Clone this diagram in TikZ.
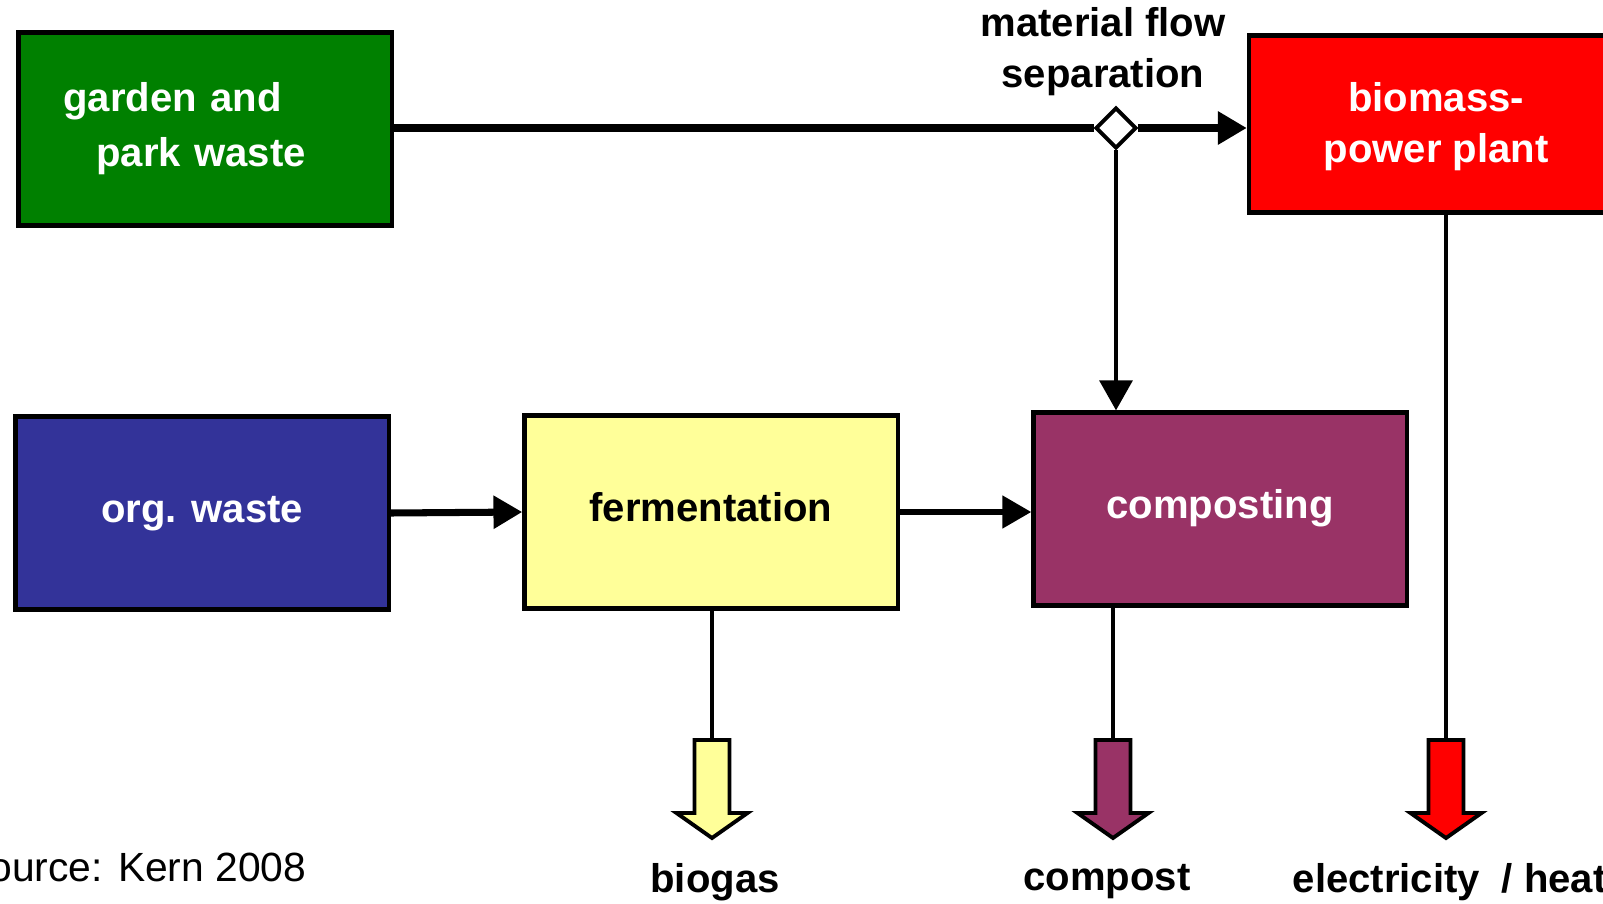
\documentclass[tikz,border=0pt]{standalone}
\usepackage{fontspec}
\setmainfont{Liberation Sans}
\usetikzlibrary{arrows.meta,shapes.geometric}
\definecolor{gardengreen}{RGB}{0,128,0}
\definecolor{plantred}{RGB}{255,0,0}
\definecolor{wasteblue}{RGB}{51,51,153}
\definecolor{fermyellow}{RGB}{255,255,153}
\definecolor{compostplum}{RGB}{153,51,102}
\begin{document}
\begin{tikzpicture}[x=0.01cm,y=-0.01cm,
  every node/.style={font=\fontsize{11.4}{14.5}\selectfont\bfseries},
  box/.style={draw,line width=1.2pt,minimum width=3.73cm,minimum height=1.93cm,align=center},
  oneline/.style={text height=0.75em,text depth=0.22em},
  flow/.style={line width=2pt,-{Triangle[length=8.2pt,width=9pt]}},
  thinflow/.style={line width=1.1pt,-{Triangle[length=8.5pt,width=9.3pt]}},
  outlet/.style={draw,line width=1.1pt,line join=miter}]
  \useasboundingbox (0,0) rectangle (1603,903);
  % boxes
  \node[box,fill=gardengreen,text=white,align=left,inner xsep=0.45cm,text width=2.83cm,
    font=\fontsize{11.4}{15.6}\selectfont\bfseries] (garden) at (205,129) {garden and\\\hspace*{0.33cm}park waste};
  \node[box,fill=plantred,text=white,minimum width=3.74cm,minimum height=1.77cm] (power) at (1436,124) {};
  \node[text=white,align=center] (powertext) at (1436,127) {biomass-\\power plant};
  \node[box,oneline,fill=wasteblue,text=white] (org) at (202,513) {org. waste};
  \node[box,oneline,fill=fermyellow] (ferm) at (711,512) {fermentation};
  \node[box,oneline,fill=compostplum,text=white] (comp) at (1220,509) {composting};
  \node[draw,fill=white,diamond,line width=1.1pt,inner sep=0pt,minimum size=0.41cm] (sep) at (1116,128) {};
  \node[align=center] (seplabel) at (1103,52) {material flow\\separation};
  % outlets
  \foreach \name/\x/\col in {biogasarr/712/fermyellow,compostarr/1113/compostplum,powerarr/1446/plantred} {
    \draw[outlet,fill=\col] (\x-17.5,740) -- (\x+17.5,740) -- (\x+17.5,813) -- (\x+35.5,813)
      -- (\x,838) -- (\x-35.5,813) -- (\x-17.5,813) -- cycle;
    \coordinate (\name) at (\x,740);
  }
  \node (biogas) at (715,882) {biogas};
  \node (compost) at (1107,882) {compost};
  \node[anchor=west,inner sep=0pt] (elheat) at (1292,882) {electricity\hspace{0.55em}/ heat};
  \node[anchor=east,inner sep=0pt,font=\fontsize{11.6}{14}\selectfont] (source) at (307,867) {Source: Kern 2008};
  % flows
  \draw[line width=2pt] (garden.east |- sep.west) -- (sep.west);
  \draw[flow] (sep.east) -- (sep.east -| power.west);
  \draw[thinflow] (sep.south) -- (sep.south |- comp.north);
  \draw[flow] (org.east) -- (ferm.west);
  \draw[line width=1.6pt,-{Triangle[length=8.2pt,width=9pt]}] (ferm.east) -- (ferm.east -| comp.west);
  \draw[line width=1pt] (ferm.south -| biogasarr) -- (biogasarr);
  \draw[line width=1pt] (comp.south -| compostarr) -- (compostarr);
  \draw[line width=1pt] (power.south -| powerarr) -- (powerarr);
\end{tikzpicture}
\end{document}
